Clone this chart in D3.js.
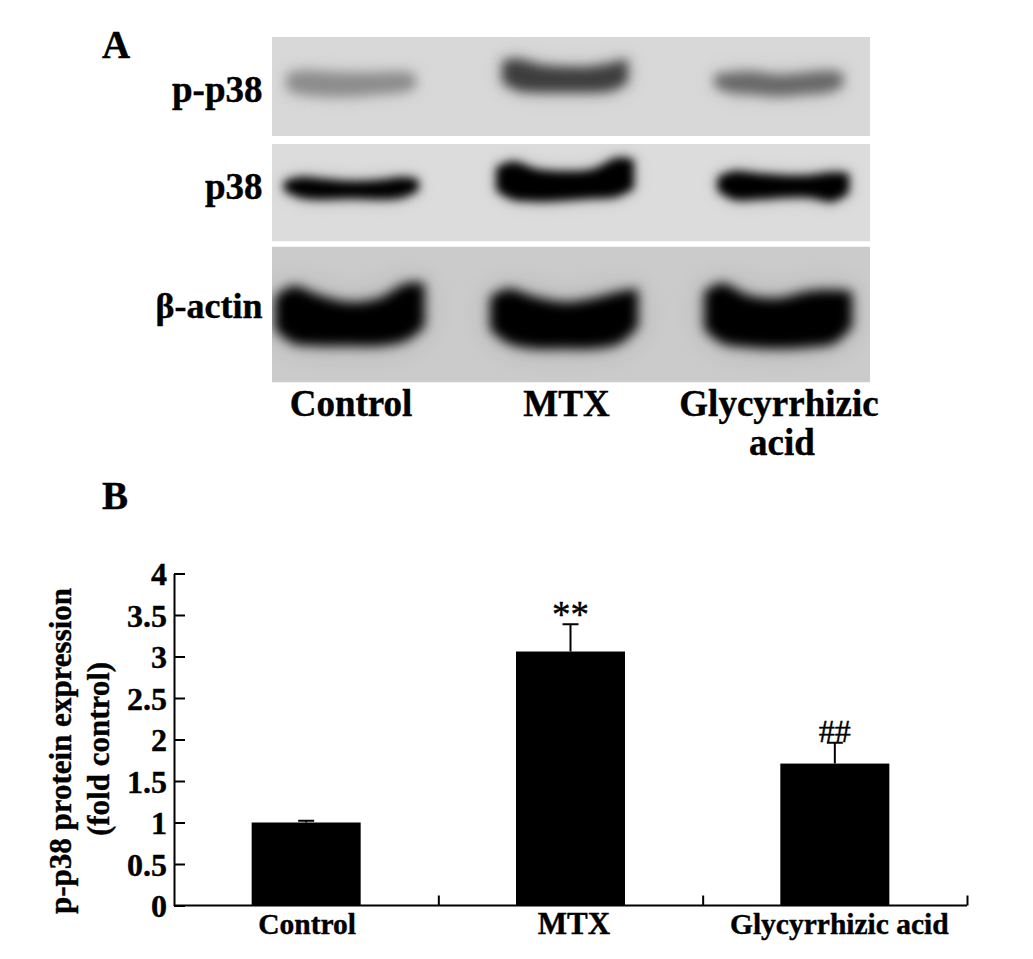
<!DOCTYPE html>
<html><head><meta charset="utf-8">
<script src="https://cdn.jsdelivr.net/npm/d3@7/dist/d3.min.js"></script>
<style>html,body{margin:0;padding:0;background:#fff}svg{display:block}text{font-family:"Liberation Serif",serif;font-weight:bold;fill:#000;stroke:#000;stroke-width:.4px}</style>
</head><body><svg id="c" width="1033" height="959"></svg>
<script>
// bar chart data
const categories = ["Control","MTX","Glycyrrhizic acid"];
const values = [1.0,3.06,1.71];
const errors = [0.02,0.33,0.25];
const marks = ["","**","##"];
const yTicks = [0,0.5,1,1.5,2,2.5,3,3.5,4];
// blot data: lanes and measured band profiles (% of panel height / % of panel width)
const blotRows = ["p-p38","p38","β-actin"];
const blotLanes = ["Control","MTX","Glycyrrhizic acid"];
const rowBackground = ["#d8d8d8","#dcdcdc","#cbcbcb"];
const bandStart = [[2.5,38.5,74],[2,37.5,74.5],[0.5,36.5,72.3]];
const bandEnd   = [[24,59.5,95.5],[24.5,60.5,96.5],[25.5,61.2,97]];
const bandShade = [["#8c8c8c","#3c3c3c","#686868"],["#050505","#000","#000"],["#000","#000","#000"]];
const fractions = [0,0.12,0.3,0.5,0.7,0.88,1];
const bandTop = [
 [[36,34,35,36,36,35,37],[24,22,28,30,30,26,22],[38,36,35,38,36,34,36]],
 [[38,34,36,38,37,34,36],[24,18,26,28,26,14,16],[34,28,30,32,32,29,30]],
 [[37,29,36,41,38,27,27],[37,31,37,41,38,33,31],[33,27,36,38,33,32,33]]];
const bandBottom = [
 [[54,58,60,60,58,56,52],[46,54,56,56,56,54,46],[50,56,58,60,58,56,50]],
 [[48,55,57,56,57,55,48],[48,57,59,58,56,54,46],[48,57,57,55,55,59,50]],
 [[61,71,73,73,73,69,59],[61,71,75,75,75,71,59],[61,71,74,75,74,71,59]]];
// row / lane labels
const laneLabels = [["Control"],["MTX"],["Glycyrrhizic","acid"]];

const svg = d3.select("#c");
const defs = svg.append("defs");
const panelX = d3.scaleLinear().domain([0,100]).range([272,870]);
const panels = [[37,136],[144,241.5],[246.5,382.5]];
const blurs = [6,5,6];
const halo = [12,10,16];
blurs.forEach((b,i)=>{
  [["blur",b],["halo",halo[i]]].forEach(([n,s])=>{
    defs.append("filter").attr("id",n+i).attr("x","-30%").attr("y","-80%").attr("width","160%").attr("height","260%")
      .append("feGaussianBlur").attr("stdDeviation",s);
  });
  defs.append("clipPath").attr("id","clip"+i).append("rect")
    .attr("x",panelX(0)).attr("y",panels[i][0]).attr("width",panelX(100)-panelX(0)).attr("height",panels[i][1]-panels[i][0]);
});
blotRows.forEach((row,r)=>{
  const py = d3.scaleLinear().domain([0,100]).range(panels[r]);
  const g = svg.append("g").attr("clip-path",`url(#clip${r})`);
  g.append("rect").attr("x",panelX(0)).attr("y",py(0)).attr("width",panelX(100)-panelX(0)).attr("height",py(100)-py(0)).attr("fill",rowBackground[r]);
  blotLanes.forEach((lane,l)=>{
    const lx = d3.scaleLinear().domain([0,1]).range([panelX(bandStart[r][l]),panelX(bandEnd[r][l])]);
    const a = d3.area().curve(d3.curveCatmullRom).x(f=>lx(f)).y0((f,i)=>py(bandTop[r][l][i])).y1((f,i)=>py(bandBottom[r][l][i]));
    g.append("path").attr("d",a(fractions)).attr("fill",bandShade[r][l]).attr("opacity",0.16).attr("filter",`url(#halo${r})`);
    g.append("path").attr("d",a(fractions)).attr("fill",bandShade[r][l]).attr("filter",`url(#blur${r})`);
  });
  svg.append("text").attr("x",262.5).attr("y",[101.5,198.5,318][r]).attr("text-anchor","end").attr("font-size",[37,37,36][r]).text(row);
});
svg.append("text").attr("x",102).attr("y",58).attr("font-size",39).text("A");
svg.append("text").attr("x",102).attr("y",509).attr("font-size",39).text("B");
const laneX = [351,566.5,779];
const laneY = d3.scaleLinear().domain([0,1]).range([416,455]);
laneLabels.forEach((lines,i)=>lines.forEach((t,j)=>{
  svg.append("text").attr("x",laneX[i]+(j?3:0)).attr("y",laneY(j)).attr("text-anchor","middle").attr("font-size",37).text(t);
}));

// bar chart
const x = d3.scaleBand().domain(categories).range([174,967]).paddingInner(0.5876).paddingOuter(0.2938);
const y = d3.scaleLinear().domain([0,4]).range([905.5,573.5]);
const chart = svg.append("g");
chart.selectAll(".bar").data(categories).join("rect").attr("class","bar")
  .attr("x",d=>x(d)).attr("width",x.bandwidth()).attr("y",(d,i)=>y(values[i])).attr("height",(d,i)=>y(0)-y(values[i])).attr("fill","#000");
const cx = d=>x(d)+x.bandwidth()/2;
chart.selectAll(".err").data(categories).join("path").attr("class","err")
  .attr("d",(d,i)=>`M${cx(d)},${y(values[i])}V${y(values[i]+errors[i])}M${cx(d)-8},${y(values[i]+errors[i])}h16`)
  .attr("stroke","#000").attr("stroke-width",2).attr("fill","none");
const yAxis = d3.axisLeft(y).tickValues(yTicks).tickSizeInner(-11).tickSizeOuter(0).tickPadding(7).tickFormat(d3.format("~g"));
const ga = chart.append("g").attr("transform","translate(174,0)").call(yAxis);
ga.select(".domain").attr("stroke","#000").attr("stroke-width",2);
ga.selectAll(".tick line").attr("stroke","#000").attr("stroke-width",2);
ga.selectAll(".tick text").attr("font-family","Liberation Serif").attr("font-size",32).attr("font-weight","bold").attr("dy","0.35em");
// x axis: ticks at band edges
const edge = d3.scaleLinear().domain([0,3]).range([174,967]);
const xa = chart.append("g").attr("transform","translate(0,905.5)").call(d3.axisTop(edge).tickValues([1,2,3]).tickSize(10).tickFormat(""));
xa.select(".domain").attr("d",`M174,0H967`).attr("stroke","#000").attr("stroke-width",2);
xa.selectAll(".tick line").attr("stroke","#000").attr("stroke-width",2);
const xlShift = [1,3.5,4.5], xlSize = [29.5,31,29.5];
chart.selectAll(".xl").data(categories).join("text").attr("class","xl").attr("x",(d,i)=>cx(d)+xlShift[i]).attr("y",934).attr("text-anchor","middle").attr("font-size",(d,i)=>xlSize[i]).text(d=>d);
chart.selectAll(".mark").data(categories).join("text").attr("class","mark")
  .attr("x",d=>cx(d)).attr("y",(d,i)=>y(values[i]+errors[i])+(i==1?3:-1)).attr("text-anchor","middle")
  .attr("font-size",(d,i)=>i==1?37:32).style("font-weight","normal").text((d,i)=>marks[i]);
svg.append("text").attr("transform","translate(71,751) rotate(-90)").attr("text-anchor","middle").attr("font-size",31).text("p-p38 protein expression");
svg.append("text").attr("transform","translate(109,749) rotate(-90)").attr("text-anchor","middle").attr("font-size",31).text("(fold control)");
</script></body></html>
